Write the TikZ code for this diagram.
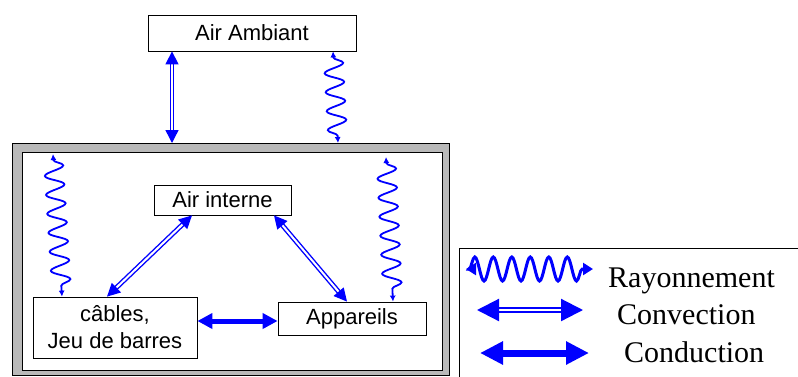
\documentclass[tikz,border=0pt]{standalone}
\usepackage{fontspec}
\setmainfont{Liberation Serif}
\setsansfont{Liberation Sans}
\usetikzlibrary{arrows.meta,decorations.pathmorphing}
\begin{document}
\begin{tikzpicture}[x=1pt,y=-1pt,
 box/.style={draw=black, line width=0.8pt, fill=white, inner sep=0pt, align=center, font=\sffamily\fontsize{22}{27}\selectfont},
 conv/.style={draw=blue, double=white, double distance=2pt, line width=1.4pt, {Triangle[length=13pt,width=13pt]}-{Triangle[length=13pt,width=13pt]}},
 cond/.style={draw=blue, line width=5pt, {Triangle[length=15pt,width=15pt]}-{Triangle[length=15pt,width=15pt]}},
 rad/.style={draw=blue, line width=1.8pt, decorate, decoration={snake, amplitude=9.5pt, segment length=19pt, pre length=6pt, post length=6pt}, {Latex[length=6pt,width=6pt]}-{Latex[length=6pt,width=6pt]}},
 legconv/.style={draw=blue, double=white, double distance=2.5pt, line width=2.2pt, {Triangle[length=22pt,width=22pt]}-{Triangle[length=22pt,width=22pt]}},
 legcond/.style={draw=blue, line width=7pt, {Triangle[length=23pt,width=22pt]}-{Triangle[length=23pt,width=22pt]}},
 legrad/.style={draw=blue, line width=3pt, decorate, decoration={snake, amplitude=12pt, segment length=18.5pt, pre length=3pt, post length=3pt}, {Triangle[length=10pt,width=12pt]}-{Triangle[length=10pt,width=12pt]}},
 legtext/.style={anchor=base west, inner sep=0pt, font=\fontsize{30}{30}\selectfont}
]
\useasboundingbox (0,0) rectangle (798,376);
% enclosure
\draw[line width=0.8pt, fill=gray!55] (12,143) rectangle (449,375);
\draw[line width=0.8pt, fill=white] (22,152) rectangle (442,370);
% legend frame
\draw[line width=0.8pt] (459,377) -- (459,248) -- (799,248);
% nodes
\node[box, minimum width=208pt, minimum height=36pt] (AA) at (252,33) {Air Ambiant};
\node[box, minimum width=137pt, minimum height=30pt] (AI) at (222.5,200) {Air interne};
\node[box, minimum width=164pt, minimum height=61pt] (CB) at (115,327.5) {câbles,\\Jeu de barres};
\node[box, minimum width=148pt, minimum height=33pt] (AP) at (352,318.5) {Appareils};
% wall coordinates
\coordinate (w1) at (172,143);
\coordinate (w2) at (338,143);
\coordinate (w3) at (53,154);
\coordinate (w4) at (386,157);
\coordinate (cy) at (0,321);
% convection
\draw[conv] (AA.south -| w1) -- (w1);
\draw[conv] ([xshift=-30.5pt]AI.south) -- ([xshift=-8pt]CB.north);
\draw[conv] ([xshift=51.5pt]AI.south) -- ([xshift=-5pt]AP.north);
% conduction
\draw[cond] (CB.east |- cy) -- (AP.west |- cy);
% radiation
\draw[rad] ([xshift=81pt]AA.south) -- (w2);
\draw[rad] (w3) -- ([xshift=-53pt]CB.north);
\draw[rad] (w4) -- ([xshift=41pt]AP.north);
% legend
\coordinate (r1) at (466,269);
\coordinate (r2) at (593,269);
\draw[legrad] (r1) -- (r2);
\coordinate (c1) at (477,310);
\coordinate (c2) at (583,310);
\draw[legconv] (c1) -- (c2);
\coordinate (d1) at (480,353);
\coordinate (d2) at (589,353);
\draw[legcond] (d1) -- (d2);
\node[legtext] (LR) at (608,287) {Rayonnement};
\node[legtext] (LC) at (617,324) {Convection};
\node[legtext] (LD) at (624,362) {Conduction};
\end{tikzpicture}
\end{document}
